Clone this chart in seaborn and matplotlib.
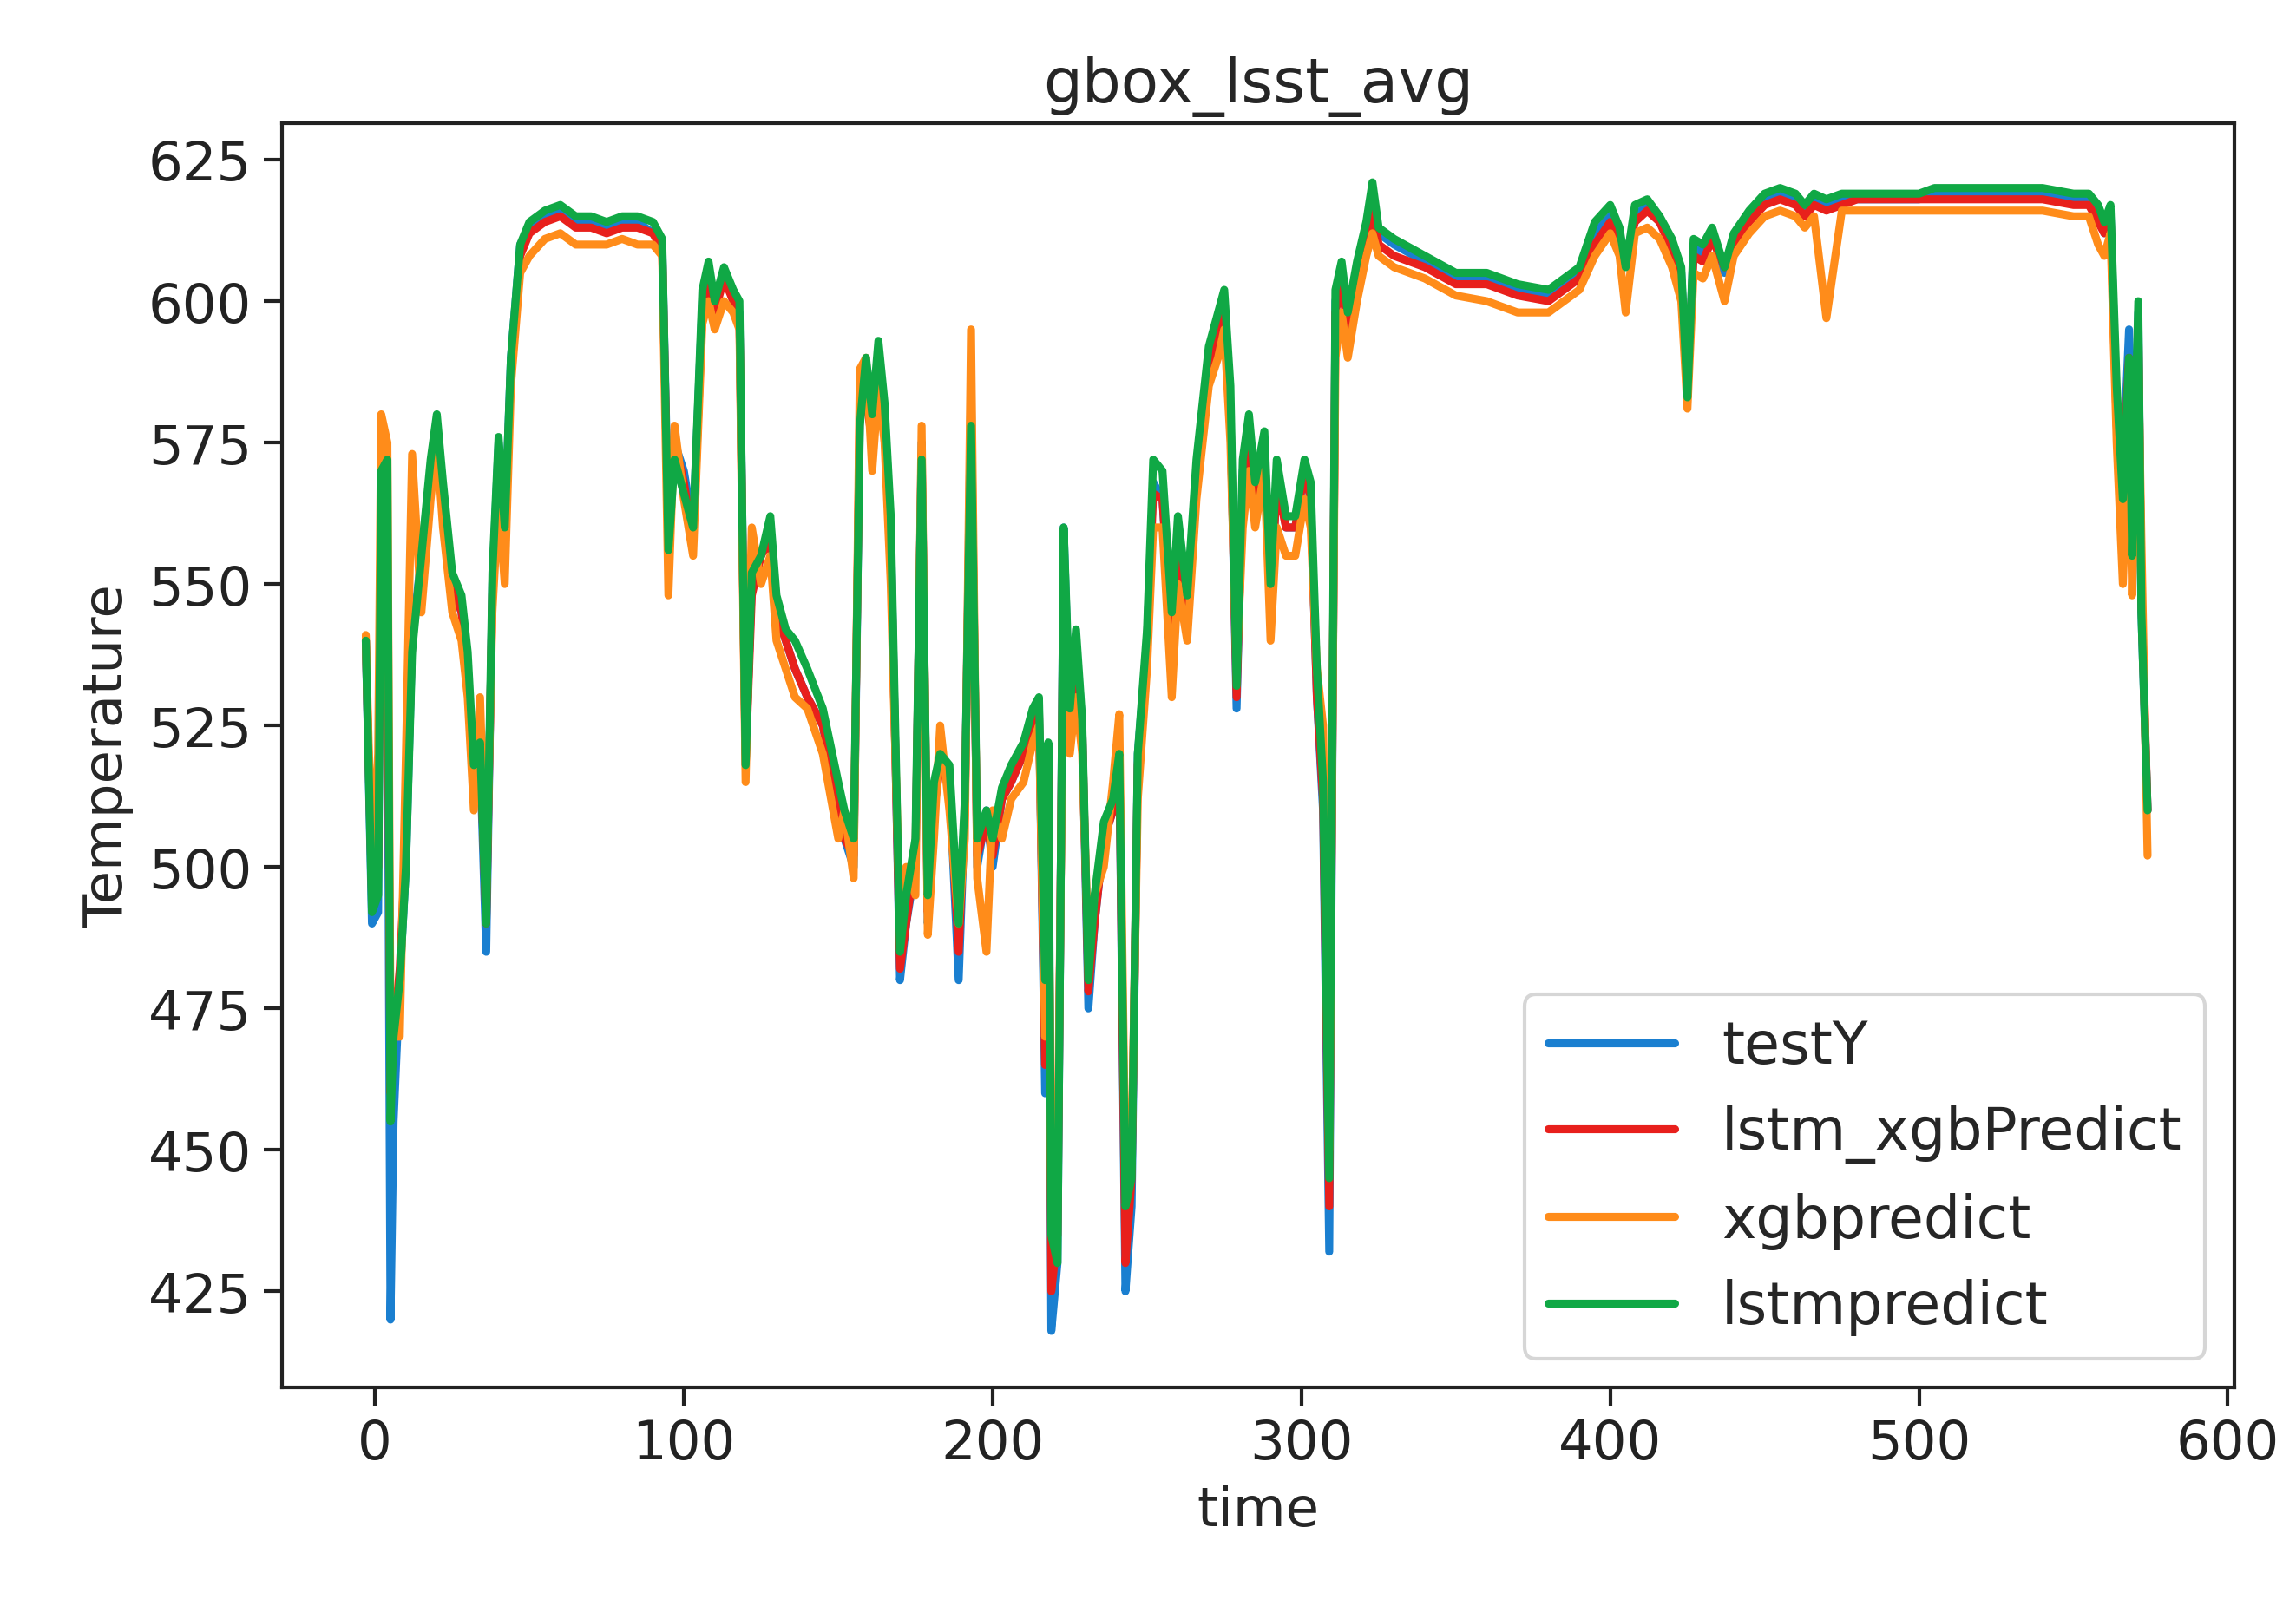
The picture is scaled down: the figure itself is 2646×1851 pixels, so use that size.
import matplotlib
matplotlib.use("Agg")
import matplotlib.pyplot as plt
import seaborn as sns
import pandas as pd

time = [-3,-1,1,2,4,5,6,8,10,12,15,18,20,22,25,28,30,32,34,36,38,40,42,44,47,50,55,60,65,70,75,80,85,90,93,95,97,100,103,106,108,110,113,116,118,120,122,125,128,130,133,136,140,145,150,152,155,157,159,161,163,165,167,170,172,175,177,179,181,183,186,189,191,193,195,198,200,203,206,210,213,215,217,218,219,221,223,225,227,229,231,233,236,239,241,243,245,247,250,252,255,258,260,263,266,270,273,275,277,279,281,283,285,288,290,292,295,298,301,303,305,307,309,311,313,315,318,321,323,325,330,340,350,360,370,380,390,395,400,403,405,408,412,416,420,423,425,427,430,433,437,440,445,450,455,460,463,466,470,475,480,490,500,505,510,520,530,540,550,555,558,560,562,564,566,568,569,571,572,574]

testY = [540,490,492,572,540,420,455,480,500,540,555,570,578,565,550,545,535,515,520,485,550,575,560,590,610,613,615,616,614,614,613,614,614,612,610,560,575,570,560,600,605,600,605,600,598,520,550,555,560,545,540,535,530,525,510,505,500,580,585,575,590,580,560,480,490,500,575,490,510,520,515,480,510,585,500,510,500,512,515,520,525,528,460,520,418,430,560,525,540,525,475,490,505,510,520,425,440,520,540,568,565,540,560,545,570,590,595,600,580,528,570,578,565,575,545,570,560,560,570,565,530,510,432,600,605,595,605,612,618,612,610,607,604,604,602,601,605,612,615,612,607,615,617,614,610,605,583,610,608,612,605,610,615,618,619,618,616,618,617,618,618,618,618,619,619,619,619,619,618,618,616,612,616,580,570,595,555,598,545,510]

lstm_xgb = [540,495,500,565,550,460,470,482,505,540,553,570,578,565,550,545,535,515,522,490,548,572,558,588,608,612,614,615,613,613,612,613,613,612,609,558,575,568,558,598,604,598,604,600,597,518,548,555,558,545,540,535,530,525,512,505,502,582,583,575,588,578,558,482,490,502,573,492,510,518,515,485,510,580,502,508,502,512,515,520,525,528,465,520,425,435,555,525,538,525,478,490,505,510,520,430,445,518,540,566,565,540,558,545,568,588,595,598,580,530,568,576,565,574,545,568,560,560,570,565,530,512,440,598,603,595,604,610,617,610,608,606,603,603,601,600,604,610,614,610,607,614,616,614,609,604,584,608,607,611,606,610,614,617,618,617,615,617,616,617,618,618,618,618,618,618,618,618,617,617,614,612,615,578,568,590,555,595,548,510]

xgbpredict = [541,500,520,580,575,470,470,470,520,573,545,565,575,560,545,540,530,510,530,495,545,565,550,585,605,608,611,612,610,610,610,611,610,610,608,548,578,565,555,596,600,595,600,598,595,515,560,550,555,540,535,530,528,520,505,510,498,588,590,570,585,575,550,490,500,495,578,488,505,525,510,490,505,595,498,485,510,505,512,515,522,525,470,510,440,445,545,520,530,520,485,495,500,515,527,445,450,512,535,560,560,530,550,540,565,585,590,595,575,535,560,570,560,570,540,560,555,555,565,560,535,525,450,590,598,590,600,608,612,608,606,604,601,600,598,598,602,608,612,608,598,612,613,611,606,600,581,605,604,608,600,608,612,615,616,615,613,615,597,616,616,616,616,616,616,616,616,616,615,615,610,608,612,575,550,580,548,590,558,502]

lstmpredict = [540,492,495,570,572,455,470,480,500,538,555,572,580,568,552,548,538,518,522,490,552,576,560,590,610,614,616,617,615,615,614,615,615,614,611,556,572,566,560,602,607,600,606,602,600,518,552,555,562,548,542,540,535,528,515,510,505,578,590,580,593,582,562,485,495,505,572,495,515,520,518,490,512,578,505,510,505,514,518,522,528,530,480,522,435,430,560,528,542,526,480,495,508,512,520,440,445,520,542,572,570,545,562,548,572,592,598,602,585,532,572,580,568,577,550,572,562,562,572,568,535,515,445,602,607,598,607,614,621,613,611,608,605,605,603,602,606,614,617,613,606,617,618,615,611,606,583,611,610,613,606,612,616,619,620,619,617,619,618,619,619,619,619,620,620,620,620,620,619,619,617,614,617,585,565,590,555,600,545,510]

series_names = ["testY", "lstm_xgbPredict", "xgbpredict", "lstmpredict"]
series_colors = ["#1a7fd0", "#e8201c", "#ff8c1a", "#10a845"]

sns.set_theme(style="white")
plt.rcParams['font.family'] = ['DejaVu Sans']

df = pd.DataFrame({"time": time, "testY": testY, "lstm_xgbPredict": lstm_xgb,
                   "xgbpredict": xgbpredict, "lstmpredict": lstmpredict})

fig = plt.figure(figsize=(8.82, 6.173), dpi=300)
ax = fig.add_axes([0.123, 0.136, 0.850, 0.787])
for name, col in zip(series_names, series_colors):
    sns.lineplot(data=df, x="time", y=name, ax=ax, color=col, label=name, linewidth=2.2)

ax.set_xlim(-30, 602)
ax.set_ylim(408, 631.5)
ax.set_xticks([0, 100, 200, 300, 400, 500, 600])
ax.set_yticks([425, 450, 475, 500, 525, 550, 575, 600, 625])
ax.tick_params(labelsize=15, length=5, width=1, direction="out", left=True, bottom=True, colors="#222222")
for s in ax.spines.values():
    s.set_color("#222222"); s.set_linewidth(1)
ax.set_xlabel("time", fontsize=15)
ax.set_ylabel("Temperature", fontsize=15)
ax.set_title("gbox_lsst_avg", fontsize=17)
ax.legend(loc="lower right", fontsize=16, handlelength=2.2, frameon=True)
fig.savefig("out.png", dpi=300)
